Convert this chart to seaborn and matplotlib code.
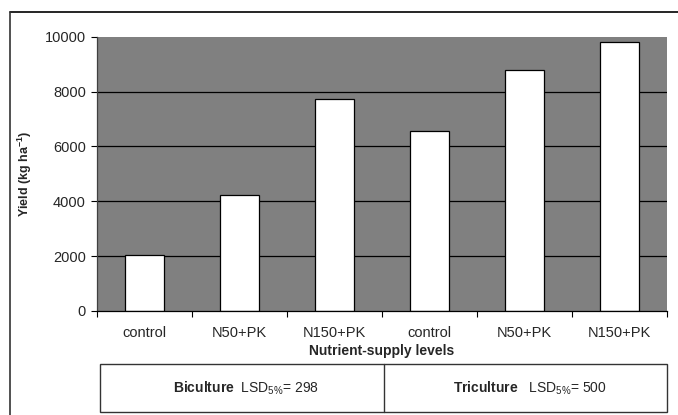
import matplotlib
matplotlib.use("Agg")
import matplotlib.pyplot as plt
import pandas as pd
import seaborn as sns
from matplotlib.lines import Line2D
from matplotlib.patches import Rectangle

# values
levels = ["control", "N50+PK", "N150+PK", "control", "N50+PK", "N150+PK"]
systems = ["Biculture", "Biculture", "Biculture", "Triculture", "Triculture", "Triculture"]
yields = [2050, 4220, 7750, 6580, 8800, 9830]
y_ticks = [0, 2000, 4000, 6000, 8000, 10000]
lsd_labels = ["Biculture", "Triculture"]
lsd_values = [298, 500]

sns.set_style("white")
plt.rcParams["font.family"] = ["Liberation Sans", "DejaVu Sans"]
plt.rcParams["mathtext.fontset"] = "custom"
plt.rcParams["mathtext.rm"] = "Liberation Sans"
plt.rcParams["mathtext.bf"] = "Liberation Sans:bold"

df = pd.DataFrame({
    "key": [s + " " + l for s, l in zip(systems, levels)],
    "level": levels,
    "yield": yields,
})

fig = plt.figure(figsize=(6.78, 4.15), dpi=100)
ax = fig.add_axes([0.143, 0.251, 0.841, 0.660])
ax.set_facecolor("#808080")

sns.barplot(data=df, x="key", y="yield", ax=ax, color="white", saturation=1,
            width=0.41, edgecolor="black", linewidth=0.9)

ax.set_ylim(0, 10000)
ax.set_xlim(-0.5, len(yields) - 0.5)
ax.set_yticks(y_ticks)
ax.set_yticklabels([str(v) for v in y_ticks], fontsize=10.5)
ax.set_xticks(range(len(levels)))
ax.set_xticklabels(levels, fontsize=10.5)
ax.set_xticks([i - 0.5 for i in range(len(levels) + 1)], minor=True)
ax.tick_params(axis="x", which="major", length=0, pad=11)
ax.tick_params(axis="x", which="minor", length=4, width=0.8, color="black", direction="out", bottom=True)
ax.tick_params(axis="y", length=4, width=0.8, color="black", direction="out", left=True, pad=4)

for v in y_ticks[1:-1]:
    ax.axhline(v, color="black", linewidth=0.9, zorder=0.5)
ax.set_axisbelow(True)

for side in ["top", "right"]:
    ax.spines[side].set_visible(False)
ax.spines["left"].set_color("#404040")
ax.spines["left"].set_linewidth(0.9)
ax.spines["bottom"].set_color("black")
ax.spines["bottom"].set_linewidth(0.9)

ax.set_xlabel("Nutrient-supply levels", fontsize=10, fontweight="bold", labelpad=3)
ax.set_ylabel(r"Yield (kg ha$^{\mathbf{-1}}$)", fontsize=9, fontweight="bold", labelpad=8)

# LSD table under the axis
tx0, tx1 = 0.1475, 0.984
ty0, ty1 = 0.0072, 0.123
fig.patches.append(Rectangle((tx0, ty0), tx1 - tx0, ty1 - ty0, transform=fig.transFigure,
                             fill=False, edgecolor="#333333", linewidth=1.0))
xm = (tx0 + tx1) / 2
fig.lines.append(Line2D([xm, xm], [ty0, ty1], transform=fig.transFigure,
                        color="#333333", linewidth=1.0))
for i, (name, val) in enumerate(zip(lsd_labels, lsd_values)):
    cx = tx0 + (tx1 - tx0) * (0.25 + 0.5 * i) + 0.006
    gap = "  " if i == 0 else "   "
    fig.text(cx, (ty0 + ty1) / 2,
             r"$\mathbf{" + name + "}$" + gap + r"LSD$_{5\%}$= " + str(val),
             ha="center", va="center", fontsize=10)

# outer frame (top and left edges visible in the reference)
fig.lines.append(Line2D([10 / 678, 1.0], [1 - 12 / 415, 1 - 12 / 415], transform=fig.transFigure,
                        color="black", linewidth=1.2))
fig.lines.append(Line2D([10 / 678, 10 / 678], [0, 1 - 12 / 415], transform=fig.transFigure,
                        color="#333333", linewidth=1.2))

fig.savefig("out.png", dpi=100)
